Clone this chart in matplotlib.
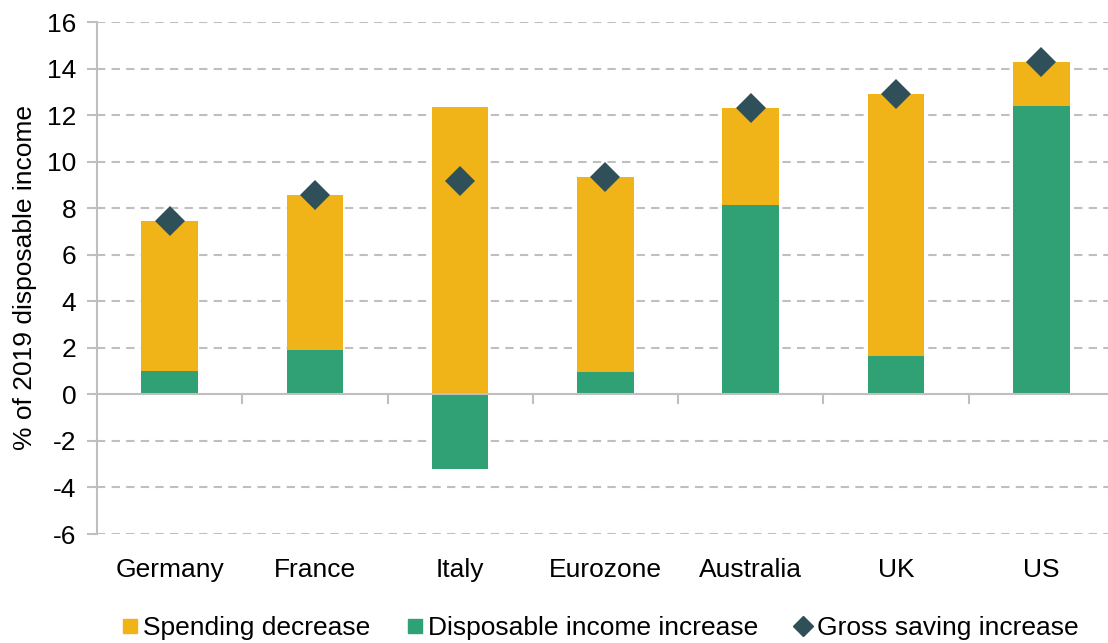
import matplotlib.pyplot as plt
import numpy as np
from matplotlib.lines import Line2D

plt.rcParams['font.family'] = ['Liberation Sans', 'DejaVu Sans']
plt.rcParams['axes.unicode_minus'] = False

countries = ['Germany', 'France', 'Italy', 'Eurozone', 'Australia', 'UK', 'US']
income_increase = [1.0, 1.9, -3.2, 0.95, 8.15, 1.65, 12.4]
spending_decrease = [6.45, 6.65, 12.35, 8.4, 4.15, 11.25, 1.9]
saving_increase = [7.45, 8.55, 9.15, 9.35, 12.3, 12.9, 14.3]

yellow = '#F0B418'
green = '#30A075'
dark = '#2F5058'
grid_c = '#BFBFBF'

fig = plt.figure(figsize=(11.08, 6.43), dpi=100)
ax = fig.add_axes([97/1108, 1-534/643, (1108-97)/1108, (534-22)/643])

x = np.arange(len(countries))
inc = np.array(income_increase)
base = np.where(inc > 0, inc, 0)
ax.bar(x, inc, width=0.39, color=green, zorder=3)
ax.bar(x, spending_decrease, width=0.39, bottom=base, color=yellow, zorder=3)
ax.plot(x, saving_increase, 'D', color=dark, markersize=15, markeredgewidth=0, zorder=4)

ax.set_ylim(-6, 16)
ax.set_yticks(range(-6, 17, 2))
ax.set_xlim(-0.5, 6.46)
ax.set_xticks(x)
ax.set_xticklabels(countries, fontsize=19)
ax.tick_params(axis='x', length=0, pad=17)
ax.tick_params(axis='y', labelsize=19, length=7, color=grid_c, width=1.5, pad=8)

for y in range(-6, 17, 2):
    if y != 0:
        ax.axhline(y, color=grid_c, lw=1.5, ls=(0, (4, 3)), zorder=1)
ax.axhline(0, color=grid_c, lw=1.5, zorder=5)
for b in np.arange(0.5, 6.5, 1):
    ax.plot([b, b], [0, -0.35], color=grid_c, lw=1.5, zorder=5, clip_on=False)

for s in ['top', 'right', 'bottom']:
    ax.spines[s].set_visible(False)
ax.spines['left'].set_color(grid_c)
ax.spines['left'].set_linewidth(1.5)

ax.set_ylabel('% of 2019 disposable income', fontsize=19, labelpad=7)

handles = [
    Line2D([], [], marker='s', ls='', color=yellow, markersize=10),
    Line2D([], [], marker='s', ls='', color=green, markersize=10),
    Line2D([], [], marker='D', ls='', color=dark, markersize=10),
]
labels = ['Spending decrease', 'Disposable income increase', 'Gross saving increase']
fig.legend(handles, labels, loc='center', bbox_to_anchor=(0.5415, 1-628/643), ncol=3,
           frameon=False, fontsize=19, handlelength=0.6, handletextpad=0.2,
           columnspacing=1.4)

fig.savefig('out.png', dpi=100)
